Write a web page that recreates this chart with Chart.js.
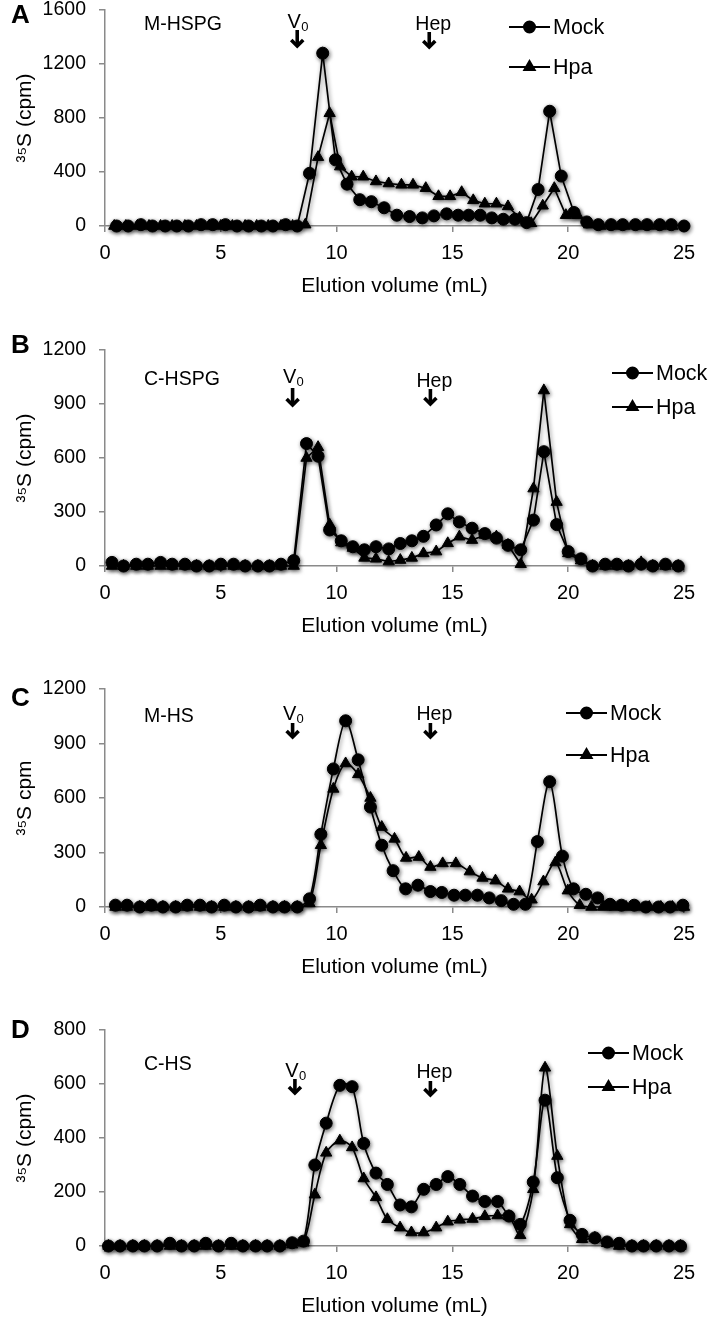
<!DOCTYPE html>
<html><head><meta charset="utf-8">
<script src="https://cdn.jsdelivr.net/npm/chart.js@4.4.1/dist/chart.umd.min.js"></script>
<style>
html,body{margin:0;padding:0;background:#fff;width:709px;height:1322px;overflow:hidden;position:relative}
canvas{position:absolute;left:0}
</style></head><body>
<canvas id="cA"></canvas><canvas id="cB"></canvas><canvas id="cC"></canvas><canvas id="cD"></canvas>
<script>
// ---------- data (elution volume in mL, 35S cpm) ----------
const seriesNames = ['Mock', 'Hpa'];
const xTicks = [0, 5, 10, 15, 20, 25];

// Panel A : M-HSPG
const volA_mock = [0.5,1.0,1.55,2.05,2.6,3.1,3.6,4.15,4.65,5.2,5.7,6.2,6.75,7.25,7.8,8.3,8.83,9.4,9.95,10.45,11.0,11.5,12.05,12.6,13.15,13.7,14.2,14.75,15.25,15.7,16.2,16.7,17.2,17.7,18.2,18.7,19.2,19.7,20.25,20.8,21.3,21.85,22.35,22.9,23.4,23.95,24.45,25.0];
const cpmA_mock = [0,0,10,0,0,0,0,10,10,10,0,0,0,0,10,0,390,1280,490,310,195,180,135,80,70,60,75,90,80,80,80,60,50,50,25,270,850,370,100,30,10,10,10,10,10,10,10,0];
const volA_hpa  = [0.4,0.9,1.4,1.9,2.4,2.9,3.45,3.95,4.5,5.0,5.5,6.05,6.55,7.05,7.6,8.1,8.65,9.2,9.7,10.15,10.65,11.15,11.7,12.25,12.8,13.3,13.85,14.4,14.9,15.4,15.9,16.4,16.9,17.4,17.9,18.4,18.9,19.4,19.9,20.4,20.9,21.4,21.95,22.45,23.0,23.5,24.0,24.5];
const cpmA_hpa  = [0,0,0,0,0,0,0,0,0,0,0,0,0,0,0,0,10,510,835,440,365,365,330,315,305,305,280,220,220,250,190,165,165,145,60,20,150,280,80,80,10,0,0,0,0,0,0,0];

// Panel B : C-HSPG
const volB_mock = [0.3,0.8,1.35,1.85,2.4,2.9,3.45,3.95,4.5,5.0,5.55,6.05,6.6,7.1,7.6,8.15,8.7,9.2,9.7,10.2,10.7,11.2,11.7,12.25,12.75,13.25,13.75,14.3,14.8,15.3,15.85,16.4,16.9,17.4,17.95,18.5,18.95,19.5,20.0,20.55,21.05,21.6,22.1,22.6,23.15,23.65,24.2,24.75];
const cpmB_mock = [20,0,10,10,20,10,10,0,0,10,10,0,0,0,10,30,680,610,200,140,107,90,107,95,125,140,165,228,290,245,210,180,155,115,90,255,635,230,80,40,0,10,10,0,10,0,10,0];
const volB_hpa  = volB_mock;
const cpmB_hpa  = [0,0,0,0,0,0,0,0,0,0,0,0,0,0,0,0,600,660,230,130,100,45,40,25,33,45,70,80,126,163,144,172,163,117,10,430,975,355,70,30,0,0,0,0,20,0,0,0];

// Panel C : M-HS
const volC_mock = [0.45,0.95,1.5,2.0,2.5,3.05,3.55,4.1,4.6,5.15,5.65,6.2,6.7,7.25,7.75,8.3,8.83,9.32,9.86,10.39,10.93,11.46,11.95,12.44,12.98,13.51,14.05,14.54,15.07,15.56,16.08,16.59,17.11,17.64,18.15,18.67,19.2,19.75,20.23,20.76,21.27,21.8,22.3,22.85,23.35,23.9,24.4,24.95];
const cpmC_mock = [10,10,0,10,0,0,10,10,0,10,0,0,10,0,0,0,45,400,760,1025,810,550,340,200,100,120,85,80,65,65,65,50,35,15,15,360,690,280,100,70,50,15,10,10,0,0,0,10];
const volC_hpa  = [0.45,0.95,1.5,2.0,2.5,3.05,3.55,4.1,4.6,5.15,5.65,6.2,6.7,7.25,7.75,8.3,8.83,9.32,9.86,10.39,10.93,11.46,11.95,12.5,13.0,13.55,14.05,14.58,15.15,15.75,16.3,16.86,17.4,17.9,18.42,18.93,19.45,19.98,20.5,21.0,21.5,22.0,22.5,23.0,23.5,24.0,24.5,25.0];
const cpmC_hpa  = [0,0,0,0,0,0,0,0,0,0,0,0,0,0,0,0,20,340,650,790,730,600,440,375,270,275,220,240,240,195,160,145,100,85,40,140,245,90,10,0,0,0,0,0,0,0,0,0];

// Panel D : C-HS
const volD_mock = [0.15,0.65,1.2,1.7,2.25,2.8,3.3,3.85,4.35,4.9,5.45,5.95,6.5,7.0,7.55,8.08,8.57,9.06,9.55,10.14,10.67,11.17,11.7,12.19,12.74,13.23,13.76,14.3,14.8,15.32,15.87,16.4,16.95,17.44,17.93,18.49,19.0,19.53,20.08,20.6,21.15,21.68,22.2,22.75,23.25,23.8,24.35,24.85];
const cpmD_mock = [0,0,0,0,0,10,0,0,10,0,10,0,0,0,0,12,18,300,455,595,590,380,270,228,152,145,210,228,257,228,185,165,165,111,80,237,540,253,95,43,30,15,10,0,0,0,0,0];
const volD_hpa  = volD_mock;
const cpmD_hpa  = [0,0,0,0,0,0,0,0,0,0,0,0,0,0,0,5,12,190,345,390,365,250,180,99,68,50,50,68,90,97,100,110,113,110,40,210,660,333,80,25,30,10,0,0,0,0,0,0];

// arrow marks (void volume V0, heparin marker)
const v0Vol  = [8.3, 8.1, 8.1, 8.2];
const hepVol = [14.0, 14.05, 14.05, 14.05];

// ---------- layout ----------
const FONT = "'Liberation Sans', Arial, Helvetica, sans-serif";
const panels = [
  {id:'cA', top:0,    h:335, padTop:10, plotH:216, letter:'A', letterY:23,   name:'M-HSPG', nameDy:20, yMax:1600, yStep:400, yTitle:'³⁵S (cpm)', tension:0,
   mock:[volA_mock,cpmA_mock], hpa:[volA_hpa,cpmA_hpa], v0Dy:18, v0Arrow:[20,37], hepDy:20, hepArrow:[22,38], legX:509, legDy:[17,57]},
  {id:'cB', top:335,  h:339, padTop:15, plotH:216, letter:'B', letterY:353,  name:'C-HSPG', nameDy:35, yMax:1200, yStep:300, yTitle:'³⁵S (cpm)', tension:0,
   mock:[volB_mock,cpmB_mock], hpa:[volB_hpa,cpmB_hpa], v0Dy:33, v0Arrow:[38,56], hepDy:37, hepArrow:[39,55], legX:612, legDy:[23,57]},
  {id:'cC', top:674,  h:336, padTop:15, plotH:218, letter:'C', letterY:706,  name:'M-HS',   nameDy:33, yMax:1200, yStep:300, yTitle:'³⁵S cpm', tension:0.3,
   mock:[volC_mock,cpmC_mock], hpa:[volC_hpa,cpmC_hpa], v0Dy:31, v0Arrow:[34,49], hepDy:31, hepArrow:[34,49], legX:566, legDy:[24,66]},
  {id:'cD', top:1010, h:312, padTop:20, plotH:216, letter:'D', letterY:1038, name:'C-HS',   nameDy:40, yMax:800,  yStep:200, yTitle:'³⁵S (cpm)', tension:0.3,
   mock:[volD_mock,cpmD_mock], hpa:[volD_hpa,cpmD_hpa], v0Dy:47, v0Arrow:[49,64], hepDy:48, hepArrow:[51,66], legX:588, legDy:[23,57]}
];

function drawArrow(ctx, x, y1, y2) {
  ctx.save();
  ctx.strokeStyle = '#000'; ctx.lineWidth = 3.6; ctx.lineCap = 'butt'; ctx.lineJoin = 'miter';
  ctx.beginPath(); ctx.moveTo(x, y1); ctx.lineTo(x, y2 - 2); ctx.stroke();
  ctx.beginPath(); ctx.moveTo(x - 6, y2 - 7); ctx.lineTo(x, y2 - 1); ctx.lineTo(x + 6, y2 - 7); ctx.stroke();
  ctx.restore();
}

const shadowPlugin = {
  id: 'shadow',
  beforeDatasetsDraw(chart) { const c = chart.ctx; c.save(); c.shadowColor = 'rgba(0,0,0,0.55)'; c.shadowBlur = 4; c.shadowOffsetX = 1; c.shadowOffsetY = 1.5; },
  afterDatasetsDraw(chart) { chart.ctx.restore(); }
};

const annotPlugin = {
  id: 'annot',
  afterDraw(chart, args, o) {
    const p = o.panel, idx = o.idx;
    const {ctx, chartArea: ca, scales: {x}} = chart;
    ctx.save();
    ctx.fillStyle = '#000';
    ctx.textBaseline = 'alphabetic';
    // panel letter
    ctx.font = `bold 26px ${FONT}`; ctx.textAlign = 'left';
    ctx.fillText(p.letter, 11, p.letterY - p.top);
    // sample name
    ctx.font = `19.5px ${FONT}`;
    ctx.fillText(p.name, 144, ca.top + p.nameDy);
    // V0
    const vx = x.getPixelForValue(v0Vol[idx]);
    ctx.font = `20px ${FONT}`;
    ctx.textAlign = 'center';
    ctx.fillText('V', vx - 3, ca.top + p.v0Dy);
    ctx.font = `13px ${FONT}`; ctx.textAlign = 'left';
    ctx.fillText('0', vx + 4, ca.top + p.v0Dy + 3);
    drawArrow(ctx, vx, ca.top + p.v0Arrow[0], ca.top + p.v0Arrow[1]);
    // Hep
    const hx = x.getPixelForValue(hepVol[idx]);
    ctx.font = `19.5px ${FONT}`; ctx.textAlign = 'center';
    ctx.fillText('Hep', hx + 4, ca.top + p.hepDy);
    drawArrow(ctx, hx, ca.top + p.hepArrow[0], ca.top + p.hepArrow[1]);
    // legend
    chart.data.datasets.forEach((ds, i) => {
      const y = ca.top + p.legDy[i];
      ctx.strokeStyle = '#000'; ctx.lineWidth = 2;
      ctx.beginPath(); ctx.moveTo(p.legX, y); ctx.lineTo(p.legX + 41, y); ctx.stroke();
      ctx.fillStyle = '#000';
      Chart.helpers.drawPoint(ctx, {pointStyle: ds.pointStyle, radius: ds.pointRadius - 0.5, rotation: 0, borderWidth: 1}, p.legX + 20.5, y);
      ctx.font = `21.5px ${FONT}`; ctx.textAlign = 'left'; ctx.textBaseline = 'middle';
      ctx.fillText(ds.label, p.legX + 44, y + 1);
    });
    ctx.restore();
  }
};

panels.forEach((p, idx) => {
  const cv = document.getElementById(p.id);
  cv.width = 709; cv.height = p.h; cv.style.top = p.top + 'px';
  cv.style.width = '709px'; cv.style.height = p.h + 'px';
  const xAxisH = p.h - p.padTop - p.plotH;
  const titleFont = 21, titleLH = titleFont * 1.2;
  const mk = (arr) => arr[0].map((v, i) => ({x: v, y: arr[1][i]}));
  new Chart(cv, {
    type: 'line',
    data: {
      datasets: [
        {label: seriesNames[0], data: mk(p.mock), borderColor: '#000', borderWidth: 1.7, backgroundColor: '#000',
         pointStyle: 'circle', pointRadius: 6, pointBackgroundColor: '#000', pointBorderColor: '#000', pointBorderWidth: 1,
         tension: p.tension, clip: false, fill: false},
        {label: seriesNames[1], data: mk(p.hpa), borderColor: '#000', borderWidth: 1.7, backgroundColor: '#000',
         pointStyle: 'triangle', pointRadius: 6.5, pointBackgroundColor: '#000', pointBorderColor: '#000', pointBorderWidth: 1,
         tension: p.tension, clip: false, fill: false}
      ]
    },
    options: {
      responsive: false, animation: false, events: [],
      layout: {padding: {top: p.padTop, right: 25, left: 0, bottom: 0}},
      plugins: {legend: {display: false}, tooltip: {enabled: false}, annot: {panel: p, idx: idx}},
      scales: {
        x: {
          type: 'linear', min: 0, max: 25,
          afterBuildTicks: (s) => { s.ticks = xTicks.map(v => ({value: v})); },
          ticks: {color: '#000', font: {family: FONT, size: 20}, padding: 9, maxRotation: 0, autoSkip: false, callback: v => String(v)},
          grid: {display: true, drawOnChartArea: false, drawTicks: true, tickLength: 6, color: '#8a8a8a', lineWidth: 1.5},
          border: {display: true, color: '#8a8a8a', width: 1.5},
          title: {display: true, text: 'Elution volume (mL)', color: '#000', font: {family: FONT, size: titleFont},
                  padding: {top: 0, bottom: xAxisH - 60 - titleLH / 2}},
          afterFit: (s) => { s.height = xAxisH; s.paddingLeft = 0; s.paddingRight = 0; }
        },
        y: {
          min: 0, max: p.yMax,
          ticks: {stepSize: p.yStep, color: '#000', font: {family: FONT, size: 19.5}, padding: 13, callback: v => String(v)},
          grid: {display: true, drawOnChartArea: false, drawTicks: true, tickLength: 6, color: '#8a8a8a', lineWidth: 1.5},
          border: {display: true, color: '#8a8a8a', width: 1.5},
          title: {display: true, text: p.yTitle, color: '#000', font: {family: FONT, size: 21}, padding: {top: 13, bottom: 0}},
          afterFit: (s) => { s.width = 105; s.paddingTop = 0; s.paddingBottom = 0; }
        }
      }
    },
    plugins: [shadowPlugin, annotPlugin]
  });
});
</script>
</body></html>
